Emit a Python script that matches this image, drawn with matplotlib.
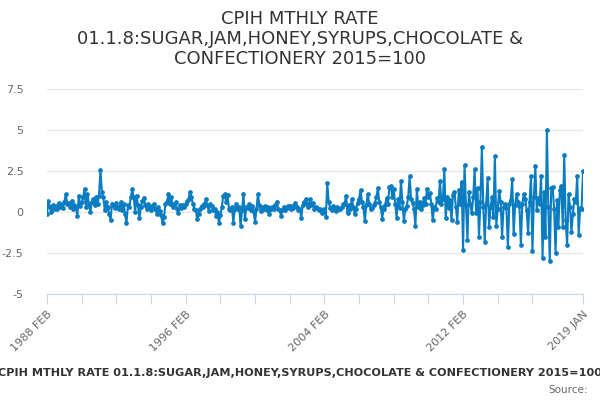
import matplotlib

matplotlib.use("Agg")
import matplotlib.pyplot as plt

# monthly rate, 1988 FEB .. 2019 JAN (one row per Feb..Jan year)
rows = [
    [-0.15, 0.67, 0.3, 0.0, 0.45, 0.2, 0.35, 0.2, 0.55, 0.3, 0.4, 0.25],
    [0.6, 1.08, 0.5, 0.55, 0.3, 0.7, 0.2, 0.45, 0.3, -0.25, 1.0, 0.35],
    [0.6, 0.9, 1.4, 0.3, 1.1, 0.5, 0.0, 0.6, 0.8, 0.4, 0.9, 0.5],
    [1.0, 2.55, 1.2, 0.9, 0.1, 0.6, 0.3, -0.1, -0.5, 0.5, 0.45, 0.25],
    [0.55, 0.3, 0.2, 0.6, 0.1, 0.5, -0.1, -0.7, 0.4, 0.3, 0.9, 1.38],
    [0.9, 0.0, 1.0, 0.4, -0.35, 0.3, 0.65, 0.87, 0.45, 0.2, 0.5, 0.3],
    [0.1, 0.35, 0.5, 0.2, -0.1, 0.3, 0.05, -0.2, -0.7, -0.3, 0.5, 0.6],
    [1.08, 0.5, 0.9, 0.3, 0.47, 0.6, 0.2, -0.04, 0.4, 0.27, 0.45, 0.3],
    [0.5, 0.67, 0.8, 1.24, 0.9, 0.47, 0.2, 0.1, -0.45, -0.1, 0.2, 0.37],
    [0.3, 0.5, 0.77, 0.4, 0.06, 0.5, 0.37, 0.1, 0.2, -0.24, 0.0, -0.65],
    [-0.2, 0.3, 1.0, 1.08, 0.6, 1.02, 0.2, 0.1, 0.3, -0.65, 0.2, 0.51],
    [0.2, 0.3, -0.85, 0.1, 1.12, -0.45, 0.3, 0.27, 0.5, 0.1, 0.35, 0.0],
    [-0.6, 0.2, 1.08, 0.4, 0.06, 0.3, 0.2, 0.37, 0.1, 0.3, -0.14, 0.2],
    [0.3, 0.16, 0.4, 0.63, 0.2, 0.1, -0.24, 0.15, 0.3, 0.1, 0.27, 0.35],
    [0.37, 0.2, 0.27, 0.4, 0.57, 0.3, 0.1, 0.2, -0.35, 0.4, 0.6, 0.77],
    [0.5, 0.3, 0.77, 0.4, 0.57, 0.2, 0.3, 0.26, 0.1, 0.2, -0.04, 0.1],
    [0.2, -0.3, 1.75, 0.6, 0.26, 0.1, 0.37, 0.2, 0.06, 0.3, 0.2, 0.16],
    [0.3, 0.47, 0.5, 1.0, -0.04, 0.4, 0.2, 0.77, 0.3, -0.14, 0.2, 0.57],
    [0.8, 1.34, 0.6, 0.3, -0.55, 0.4, 1.07, 0.5, 0.2, 0.26, 0.4, 0.57],
    [0.9, 1.44, 0.6, 0.3, -0.4, 0.2, 0.4, 0.87, 0.5, 1.54, 1.6, 0.9],
    [1.38, 0.5, -0.35, 0.8, 0.26, 1.9, 0.6, -0.55, 0.2, 0.37, 0.9, 2.17],
    [0.8, 0.57, 0.2, -0.85, 1.4, 0.3, 0.6, 0.16, 0.4, 0.87, 0.5, 1.38],
    [0.9, 1.18, 0.5, -0.5, 0.3, 0.2, 0.87, 0.6, 1.9, 0.5, 0.77, 2.6],
    [-0.39, 0.94, 0.22, 0.73, -0.49, 1.04, 1.24, 0.3, -0.6, 1.34, 0.5, 1.85],
    [-2.3, 2.86, 0.4, -1.7, 1.24, 0.5, -0.08, 0.9, 2.6, -0.08, 1.44, -1.5],
    [0.6, 3.98, 0.3, -1.8, 0.5, 2.1, -0.9, 0.3, 0.89, -0.28, 3.4, -0.85],
    [0.2, 1.3, 0.6, -1.5, 0.3, 0.49, 0.22, -2.15, 0.5, 0.73, 2.0, -1.35],
    [0.4, 1.1, 0.6, 0.37, -2.0, 0.5, 1.1, 0.8, 0.12, -1.26, 0.6, 2.2],
    [-2.4, 0.9, 2.8, 0.12, 0.83, 0.5, 2.2, -2.8, 1.24, -1.5, 5.0, 0.3],
    [-3.0, 1.44, 1.5, 0.2, -2.5, 0.73, -0.89, 1.34, 1.59, -0.89, 3.5, -0.5],
    [-2.0, 1.1, 0.33, -1.2, -0.12, 0.8, 0.6, 2.2, -1.4, 0.22, 0.16, 2.5],
]
values = [v for r in rows for v in r]

tick_months = [0, 24, 48, 72, 96, 120, 144, 168, 192, 216, 240, 264, 288, 312, 336, 371]
tick_labels = {0: "1988 FEB", 96: "1996 FEB", 192: "2004 FEB", 288: "2012 FEB", 371: "2019 JAN"}
yticks = [-5, -2.5, 0, 2.5, 5, 7.5]
ytick_labels = ["-5", "-2.5", "0", "2.5", "5", "7.5"]

TITLE = "CPIH MTHLY RATE 01.1.8:SUGAR,JAM,HONEY,SYRUPS,CHOCOLATE & CONFECTIONERY 2015=100"
LINE = "#0a7cc1"

fig = plt.figure(figsize=(6, 4), dpi=100)
ax = fig.add_axes([47 / 600, 1 - 294 / 400, 536 / 600, 205 / 400])

ax.plot(range(len(values)), values, color=LINE, lw=1.5, marker="o", ms=2.4, zorder=3)

ax.set_xlim(0, len(values) - 1)
ax.set_ylim(-5, 7.5)
ax.set_yticks(yticks)
ax.set_yticklabels(ytick_labels)
ax.grid(axis="y", color="#e6e6e6", lw=1)
ax.set_axisbelow(True)
for side in ("top", "right", "left"):
    ax.spines[side].set_visible(False)
ax.spines["bottom"].set_color("#ccd6eb")
ax.tick_params(axis="y", length=0, pad=17, labelsize=8, labelcolor="#666666")

ax.set_xticks(tick_months)
ax.set_xticklabels([tick_labels.get(m, "") for m in tick_months],
                   rotation=45, ha="right", va="top", rotation_mode="anchor")
ax.tick_params(axis="x", length=7, color="#ccd6eb", labelsize=8, labelcolor="#666666", pad=4)

fig.text(0.5, 0.975, "CPIH MTHLY RATE\n01.1.8:SUGAR,JAM,HONEY,SYRUPS,CHOCOLATE &\nCONFECTIONERY 2015=100",
         ha="center", va="top", fontsize=13, color="#333333", linespacing=1.15)
fig.text(0.5, 0.068, TITLE, ha="center", va="center", fontsize=8.1, fontweight="bold", color="#333333")
fig.text(0.98, 0.025, "Source:", ha="right", va="center", fontsize=7.5, color="#666666")

fig.savefig("out.png", dpi=100)
